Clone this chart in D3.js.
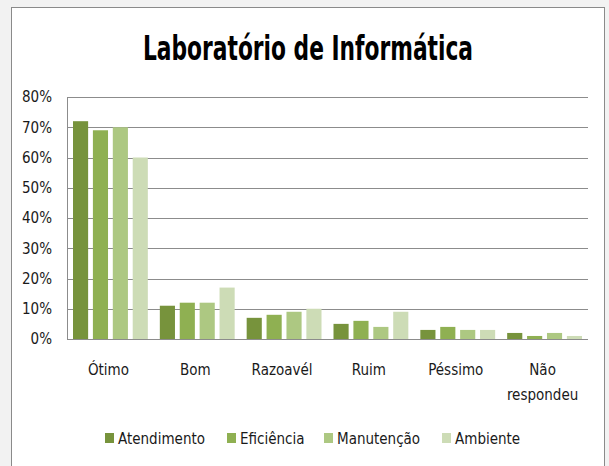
<!DOCTYPE html>
<html>
<head>
<meta charset="utf-8">
<script src="https://cdn.jsdelivr.net/npm/d3@7"></script>
<style>
  body { margin: 0; background: #f2f2f2; }
  svg { display: block; }
  text { font-family: "Liberation Sans Narrow", "DejaVu Sans Condensed", "Open Sans", sans-serif; fill: #1a1a1a; }
</style>
</head>
<body>
<svg id="chart" width="609" height="466"></svg>
<script>
// categories and series (percent)
var categories = ["Ótimo", "Bom", "Razoavél", "Ruim", "Péssimo", "Não respondeu"];
var seriesNames = ["Atendimento", "Eficiência", "Manutenção", "Ambiente"];
var atendimento = [72, 11, 7, 5, 3, 2];
var eficiencia = [69, 12, 8, 6, 4, 1];
var manutencao = [70, 12, 9, 4, 3, 2];
var ambiente = [60, 17, 10, 9, 3, 1];
var yTicks = [0, 10, 20, 30, 40, 50, 60, 70, 80];
var colors = ["#77933c", "#8fb052", "#adc882", "#cddcb6"];

var seriesValues = [atendimento, eficiencia, manutencao, ambiente];

var svg = d3.select("#chart");

// chart frame
svg.append("rect")
    .attr("x", 11.5).attr("y", 7.5)
    .attr("width", 593).attr("height", 470)
    .attr("fill", "white")
    .attr("stroke", "#8a8a8a");

var plotLeft = 67, plotRight = 588, plotTop = 97, plotBottom = 339;

var x0 = d3.scaleBand()
    .domain(categories)
    .range([plotLeft, plotRight]);

var x1 = d3.scaleBand()
    .domain(seriesNames)
    .range([6, x0.bandwidth() - 6])
    .paddingInner(0.24);

var y = d3.scaleLinear()
    .domain([0, 80])
    .range([plotBottom, plotTop]);

// gridlines
svg.append("g")
    .selectAll("line")
    .data(yTicks)
    .enter().append("line")
    .attr("x1", plotLeft).attr("x2", plotRight)
    .attr("y1", function(d) { return Math.round(y(d)) + 0.5; })
    .attr("y2", function(d) { return Math.round(y(d)) + 0.5; })
    .attr("stroke", "#8c8c8c");

svg.append("line")
    .attr("x1", plotLeft + 0.5).attr("x2", plotLeft + 0.5)
    .attr("y1", plotTop).attr("y2", plotBottom + 1)
    .attr("stroke", "#8c8c8c");

// y axis labels
var yAxis = d3.axisLeft(y)
    .tickValues(yTicks)
    .tickSize(0)
    .tickPadding(15)
    .tickFormat(function(d) { return d + "%"; });
var yg = svg.append("g")
    .attr("transform", "translate(" + plotLeft + ",0)")
    .call(yAxis);
yg.select(".domain").remove();
yg.selectAll("text")
    .style("font-size", "15px")
    .style("font-family", null)
    .attr("font-family", null)
    .style("fill", "#1a1a1a");

// bars
var groups = svg.append("g")
    .selectAll("g")
    .data(categories)
    .enter().append("g")
    .attr("transform", function(d) { return "translate(" + x0(d) + ",0)"; });

groups.selectAll("rect")
    .data(function(d, i) {
        return seriesNames.map(function(s, j) { return { s: s, v: seriesValues[j][i], j: j }; });
    })
    .enter().append("rect")
    .attr("x", function(d) { return x1(d.s); })
    .attr("width", x1.bandwidth())
    .attr("y", function(d) { return y(d.v); })
    .attr("height", function(d) { return y(0) - y(d.v); })
    .attr("fill", function(d) { return colors[d.j]; });

// x labels
svg.append("g")
    .selectAll("text")
    .data(categories)
    .enter().append("text")
    .attr("text-anchor", "middle")
    .attr("x", function(d) { return x0(d) + x0.bandwidth() / 2 - 2; })
    .attr("y", 375)
    .style("font-size", "15px")
    .each(function(d) {
        var words = d === "Não respondeu" ? ["Não", "respondeu"] : [d];
        var t = d3.select(this);
        words.forEach(function(w, k) {
            t.append("tspan")
                .attr("x", t.attr("x"))
                .attr("dy", k === 0 ? 0 : 25)
                .text(w);
        });
    });

// title
svg.append("text")
    .attr("x", 308).attr("y", 60)
    .attr("text-anchor", "middle")
    .attr("textLength", 330)
    .attr("lengthAdjust", "spacingAndGlyphs")
    .style("font-size", "33px")
    .style("font-weight", "bold")
    .style("fill", "#000")
    .text("Laboratório de Informática");

// legend
var legendX = [105, 227, 324, 442];
var legend = svg.append("g")
    .selectAll("g")
    .data(seriesNames)
    .enter().append("g")
    .attr("transform", function(d, i) { return "translate(" + legendX[i] + ",433)"; });

legend.append("rect")
    .attr("width", 9).attr("height", 10)
    .attr("fill", function(d, i) { return colors[i]; });

legend.append("text")
    .attr("x", 13).attr("y", 11)
    .style("font-size", "15px")
    .text(function(d) { return d; });
</script>
</body>
</html>
